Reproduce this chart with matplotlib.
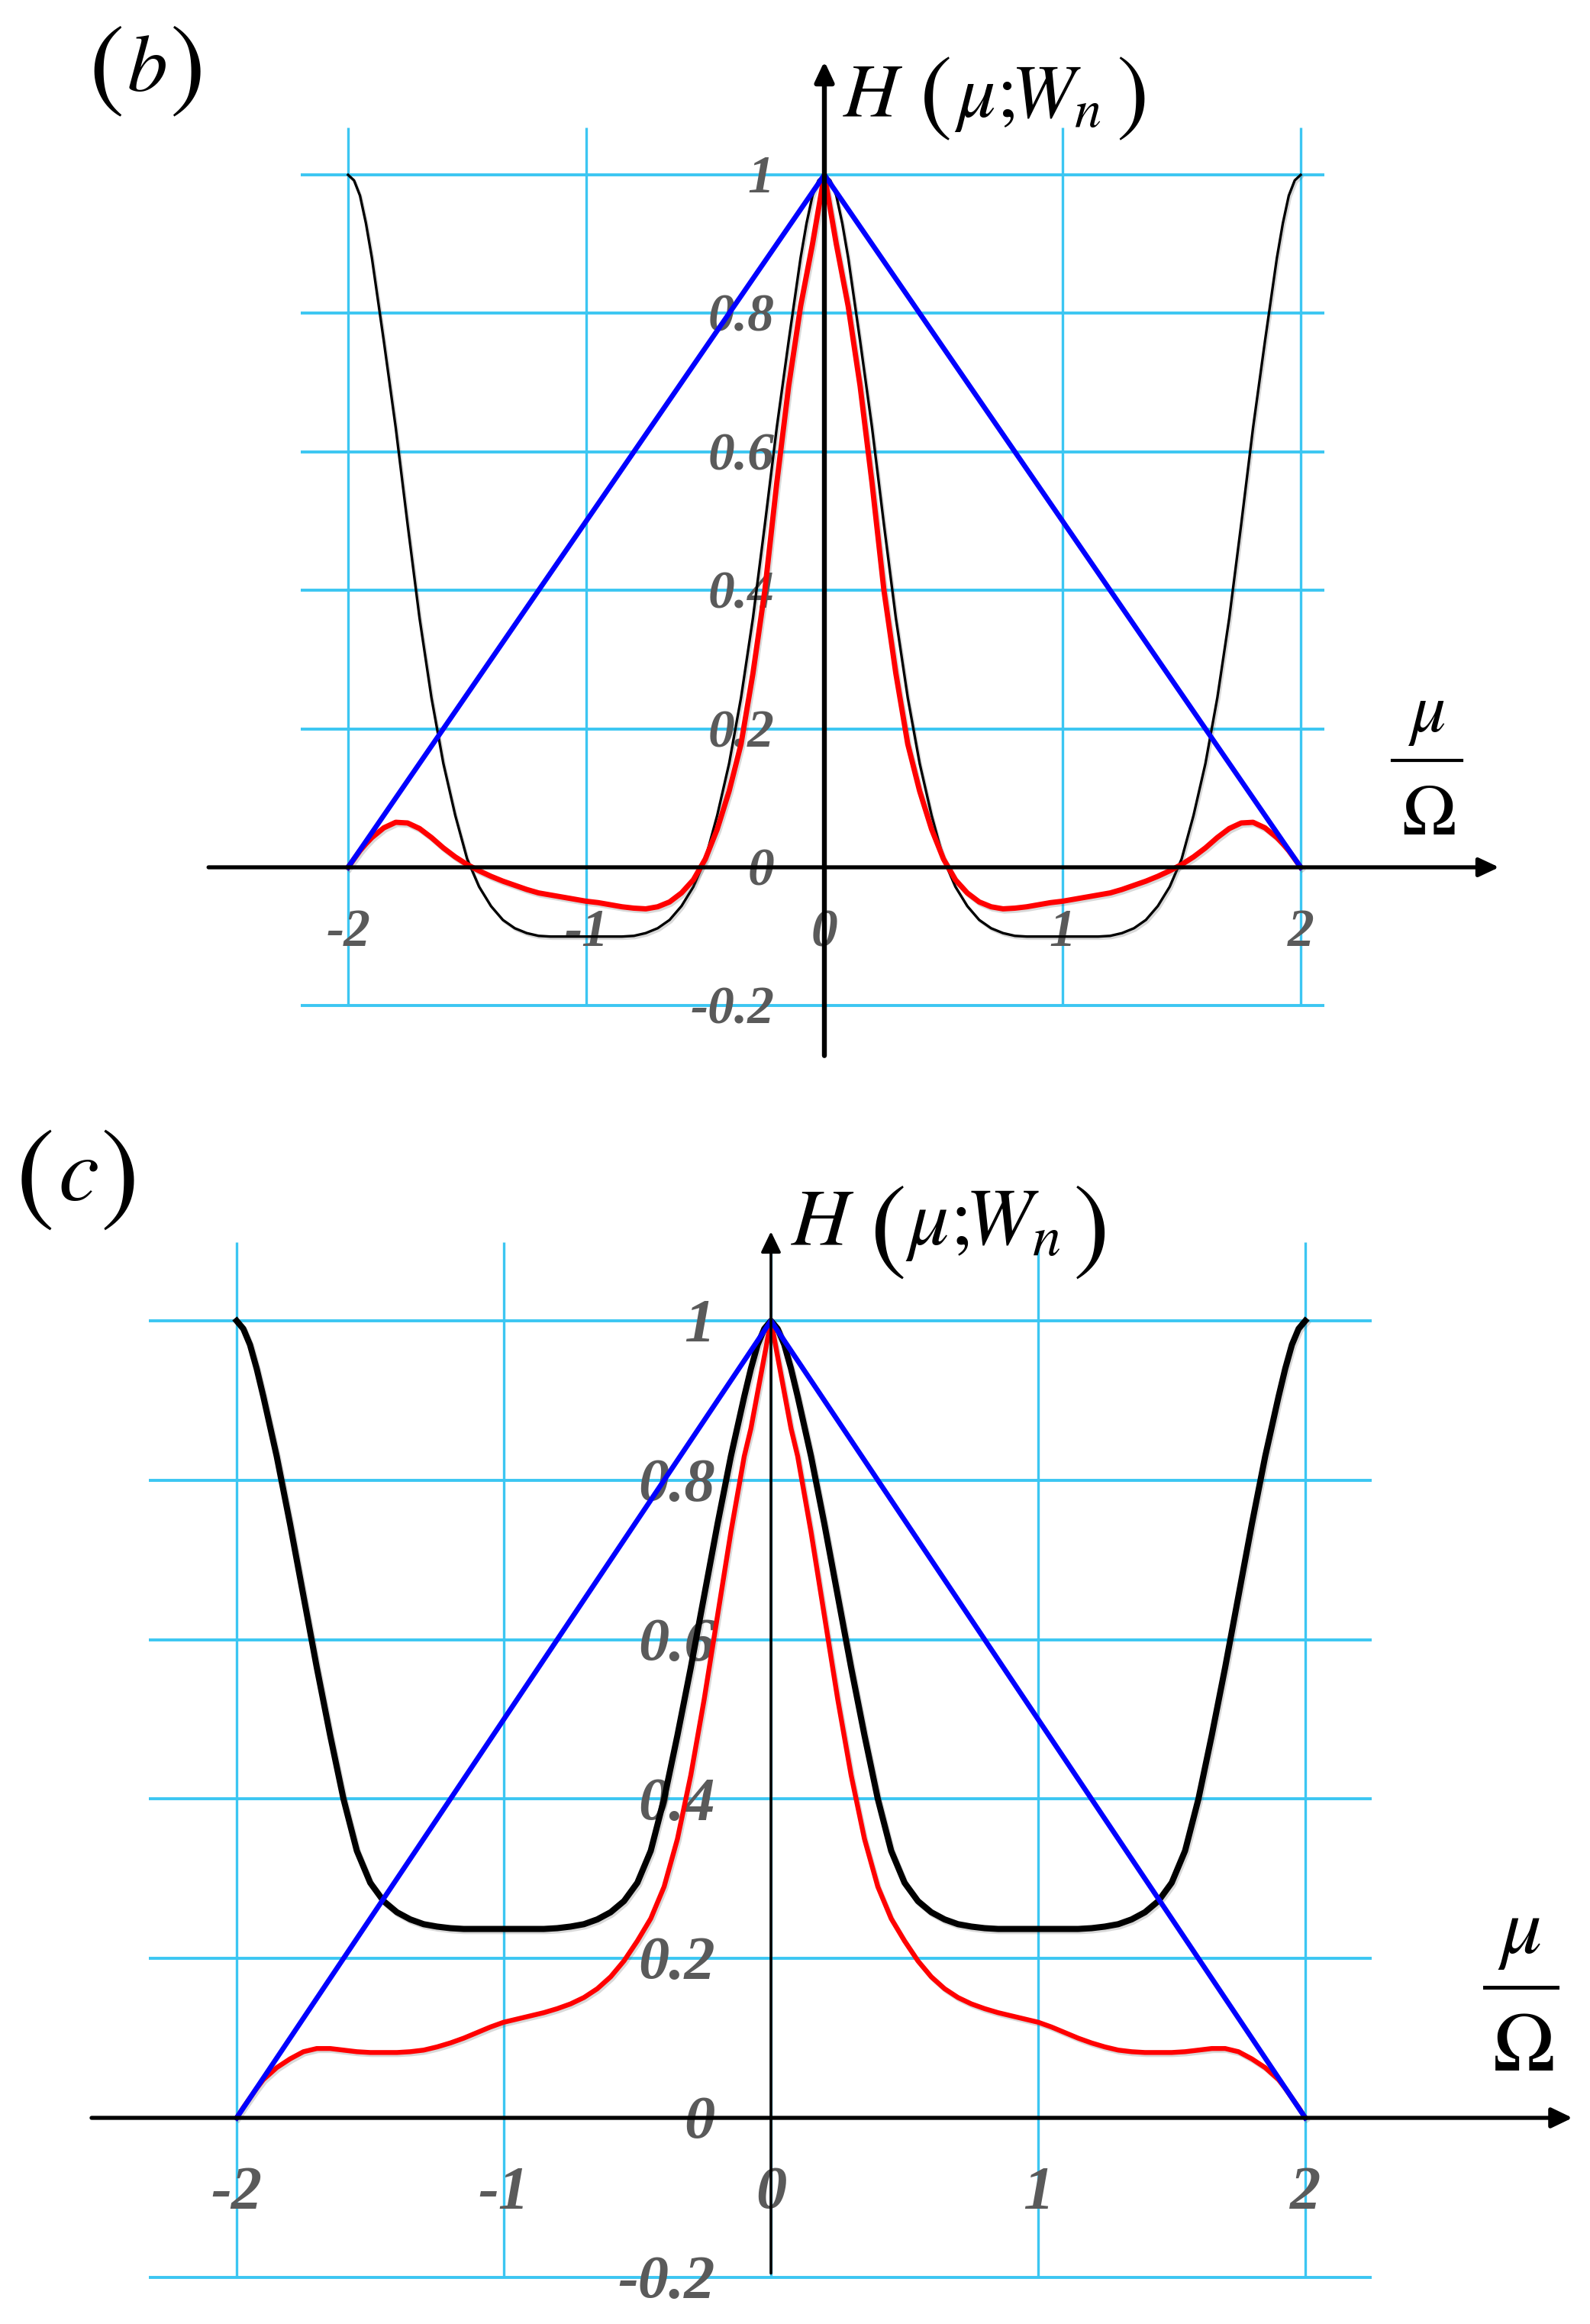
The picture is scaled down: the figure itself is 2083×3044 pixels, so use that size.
import numpy as np
import matplotlib
matplotlib.use("Agg")
import matplotlib.pyplot as plt
import matplotlib.patheffects as pe
from matplotlib import transforms
from matplotlib.lines import Line2D

plt.rcParams['mathtext.fontset'] = 'stix'

# ---------------- data ----------------
# mu/Omega sample positions on the right half (curves are even in mu)
mu_half = [0.0, 0.025, 0.05, 0.075, 0.1, 0.15, 0.2, 0.25, 0.3, 0.35, 0.4, 0.45,
           0.5, 0.55, 0.6, 0.65, 0.7, 0.75, 0.8, 0.85, 0.9, 0.95, 1.0, 1.05,
           1.1, 1.15, 1.2, 1.25, 1.3, 1.35, 1.4, 1.45, 1.5, 1.55, 1.6, 1.65,
           1.7, 1.75, 1.8, 1.85, 1.9, 1.925, 1.95, 1.975, 2.0]

# panel (b)
black_b = [1.0, 0.992, 0.97, 0.93, 0.88, 0.76, 0.635, 0.495, 0.36, 0.245, 0.15, 0.075,
           0.012, -0.028, -0.056, -0.076, -0.088, -0.095, -0.099, -0.1, -0.1, -0.1, -0.1, -0.1,
           -0.1, -0.1, -0.099, -0.095, -0.088, -0.076, -0.056, -0.028, 0.012, 0.075, 0.15, 0.245,
           0.36, 0.495, 0.635, 0.76, 0.88, 0.93, 0.97, 0.992, 1.0]
red_b = [1.0, 0.95, 0.9, 0.855, 0.81, 0.695, 0.555, 0.4, 0.28, 0.178, 0.11, 0.055,
         0.012, -0.018, -0.037, -0.05, -0.057, -0.06, -0.059, -0.057, -0.054, -0.051, -0.049, -0.046,
         -0.043, -0.04, -0.037, -0.032, -0.026, -0.02, -0.013, -0.005, 0.004, 0.015, 0.028, 0.043,
         0.056, 0.064, 0.065, 0.057, 0.043, 0.034, 0.024, 0.012, 0.0]

# panel (c)
black_c = [1.0, 0.99, 0.97, 0.94, 0.905, 0.83, 0.745, 0.655, 0.565, 0.48, 0.4, 0.335,
           0.295, 0.272, 0.258, 0.249, 0.243, 0.24, 0.238, 0.237, 0.237, 0.237, 0.237, 0.237,
           0.237, 0.237, 0.238, 0.24, 0.243, 0.249, 0.258, 0.272, 0.295, 0.335, 0.4, 0.48,
           0.565, 0.655, 0.745, 0.83, 0.905, 0.94, 0.97, 0.99, 1.0]
red_c = [1.0, 0.955, 0.91, 0.865, 0.83, 0.735, 0.63, 0.525, 0.43, 0.35, 0.29, 0.25,
         0.222, 0.197, 0.177, 0.162, 0.151, 0.143, 0.137, 0.132, 0.128, 0.124, 0.12, 0.114,
         0.107, 0.1, 0.094, 0.089, 0.085, 0.083, 0.082, 0.082, 0.082, 0.083, 0.085, 0.087,
         0.087, 0.083, 0.074, 0.063, 0.048, 0.037, 0.025, 0.013, 0.0]

# triangle (blue) in both panels
tri_mu = [-2.0, 0.0, 2.0]
tri_H = [0.0, 1.0, 0.0]

x_ticks = [-2, -1, 0, 1, 2]
x_tick_labels = ['-2', '-1', '0', '1', '2']
y_ticks = [1.0, 0.8, 0.6, 0.4, 0.2, 0.0, -0.2]
y_tick_labels = ['1', '0.8', '0.6', '0.4', '0.2', '0', '-0.2']


def full(half_x, half_y):
    hx = np.asarray(half_x, float)
    hy = np.asarray(half_y, float)
    x = np.concatenate([-hx[:0:-1], hx])
    y = np.concatenate([hy[:0:-1], hy])
    return x, y


# ---------------- figure ----------------
W, H = 2083, 3044
fig = plt.figure(figsize=(W / 100, H / 100), dpi=100)
fig.patch.set_facecolor('white')

GRID = '#3cc6f2'
LBL = '#5a5a5a'
SERIF = 'Liberation Serif'


def make_ax(x0, xu, y0, yu):
    ax = fig.add_axes([0, 0, 1, 1])
    ax.set_xlim((0 - x0) / xu, (W - x0) / xu)
    ax.set_ylim((y0 - H) / yu, y0 / yu)
    ax.axis('off')
    return ax


def fx(px):
    return px / W


def fy(py):
    return 1 - py / H


shadow = [pe.SimpleLineShadow(offset=(1.5, -2), alpha=0.22, shadow_color='#555555'), pe.Normal()]


def panel(ax, black, red, black_lw, red_lw, blue_lw, gx, gtop, xaxis, yaxis,
          xaxis_lw, yaxis_lw, head, fs):
    # grid
    for yv in y_ticks:
        ax.plot(gx, [yv, yv], color=GRID, lw=2.8, zorder=1, solid_capstyle='butt')
    for xv in x_ticks:
        ax.plot([xv, xv], [-0.2, gtop], color=GRID, lw=2.4, zorder=1, solid_capstyle='butt')
    # tick labels
    dy = -0.338 * fs
    tr = transforms.offset_copy(ax.transData, fig=fig, x=0, y=dy, units='points')
    for yv, s in zip(y_ticks, y_tick_labels):
        ax.text(-0.21, yv, s, transform=tr, fontsize=fs, family=SERIF, weight='bold',
                style='italic', color=LBL, ha='right', va='baseline', zorder=2)
    for xv, s in zip(x_ticks, x_tick_labels):
        ax.text(xv, -0.088, s, transform=tr, fontsize=fs, family=SERIF, weight='bold',
                style='italic', color=LBL, ha='center', va='baseline', zorder=2)
    # curves
    x, y = full(mu_half, black)
    ax.plot(x, y, color='black', lw=black_lw, zorder=3, path_effects=shadow,
            solid_joinstyle='round')
    x, y = full(mu_half, red)
    ax.plot(x, y, color='#ff0000', lw=red_lw, zorder=4, path_effects=shadow,
            solid_joinstyle='round')
    ax.plot(tri_mu, tri_H, color='#0000ff', lw=blue_lw, zorder=5, solid_joinstyle='round')
    # axes with arrows
    hl, hw = head
    style = '-|>,head_length=%g,head_width=%g' % (hl, hw)
    ax.annotate('', xy=(xaxis[1], 0), xytext=(xaxis[0], 0),
                arrowprops=dict(arrowstyle=style, lw=xaxis_lw, color='black',
                                shrinkA=0, shrinkB=0, mutation_scale=10), zorder=6)
    ax.annotate('', xy=(0, yaxis[1]), xytext=(0, yaxis[0]),
                arrowprops=dict(arrowstyle=style, lw=yaxis_lw, color='black',
                                shrinkA=0, shrinkB=0, mutation_scale=10), zorder=6)


# panel (b)
ax_b = make_ax(1080, 312, 1136, 907)
panel(ax_b, black_b, red_b, black_lw=2.4, red_lw=5.0, blue_lw=4.8,
      gx=[-2.2, 2.1], gtop=1.068, xaxis=(-2.586, 2.833), yaxis=(-0.272, 1.164),
      xaxis_lw=3.8, yaxis_lw=4.6, head=(1.6, 0.75), fs=50)

# panel (c)
ax_c = make_ax(1010, 350, 2774, 1044)
panel(ax_c, black_c, red_c, black_lw=5.8, red_lw=4.6, blue_lw=4.8,
      gx=[-2.33, 2.25], gtop=1.099, xaxis=(-2.543, 3.0), yaxis=(-0.195, 1.112),
      xaxis_lw=3.8, yaxis_lw=2.6, head=(1.66, 0.8), fs=58)


# ---------------- text labels ----------------
def mtext(px, py, s, size):
    fig.text(fx(px), fy(py), s, fontsize=size, ha='left', va='baseline')


# (b)
mtext(116, 128, r'$($', 100)
mtext(166, 119, r'$b$', 76)
mtext(222, 128, r'$)$', 100)
# (c)
mtext(20, 1584, r'$($', 110)
mtext(76, 1572, r'$c$', 86)
mtext(131, 1584, r'$)$', 110)


def hlabel(x0, y0, s_main, s_par, par_dy, sx=1.0):
    mtext(x0, y0, r'$H$', s_main)
    mtext(x0 + 100 * sx, y0 + par_dy, r'$($', s_par)
    mtext(x0 + 146 * sx, y0, r'$\mu;\!\!W_n$', s_main)
    mtext(x0 + 358 * sx, y0 + par_dy, r'$)$', s_par)


hlabel(1104, 153, 72, 92, 8)
hlabel(1036, 1630, 76, 104, 20, sx=1.03)

# x labels (mu / Omega)
fig.text(fx(1869), fy(958), r'$\mu$', fontsize=66, ha='center', va='baseline')
fig.add_artist(Line2D([fx(1824), fx(1915)], [fy(996), fy(996)], transform=fig.transFigure,
                      color='black', lw=3))
fig.text(fx(1871), fy(1093), r'$\Omega$', fontsize=69, ha='center', va='baseline')

fig.text(fx(1991), fy(2558), r'$\mu$', fontsize=77, ha='center', va='baseline')
fig.add_artist(Line2D([fx(1945), fx(2040)], [fy(2603), fy(2603)], transform=fig.transFigure,
                      color='black', lw=3.6))
fig.text(fx(1995), fy(2712), r'$\Omega$', fontsize=79, ha='center', va='baseline')

fig.savefig('out.png', dpi=100, facecolor='white')
